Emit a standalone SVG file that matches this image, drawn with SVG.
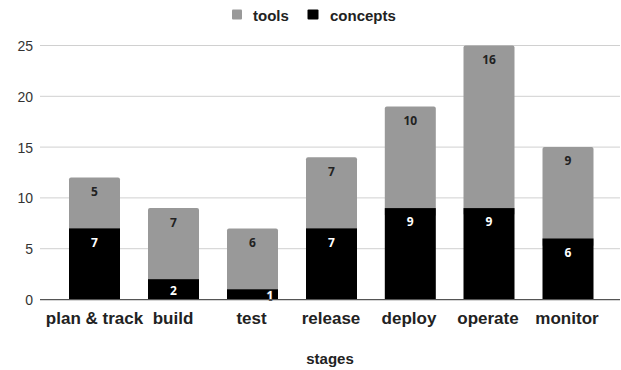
<svg xmlns="http://www.w3.org/2000/svg" width="621" height="370" viewBox="0 0 621 370">
<style>
.grid{stroke:#d0d0d0;stroke-width:1;fill:none}
.axis{stroke:#555;stroke-width:1.3;fill:none}
.ylab{font-family:"Liberation Sans",Arial,sans-serif;font-size:14px;fill:#333;text-anchor:end}
.xlab{font-family:"Liberation Sans",Arial,sans-serif;font-size:17px;font-weight:bold;fill:#222;text-anchor:middle}
.leg{font-family:"Liberation Sans",Arial,sans-serif;font-size:15px;font-weight:bold;fill:#222}
.title{font-family:"Liberation Sans",Arial,sans-serif;font-size:15px;font-weight:bold;fill:#222;text-anchor:middle}
.tools{fill:#999}
.concepts{fill:#000}
.vd{font-family:"Open Sans","Noto Sans",sans-serif;font-size:12px;font-weight:bold;fill:#222;text-anchor:middle}
.vw{font-family:"Open Sans","Noto Sans",sans-serif;font-size:12px;font-weight:bold;fill:#fff;text-anchor:middle}
</style>
<rect width="621" height="370" fill="#fff"/>
<g id="legend">
<rect x="232" y="9.5" width="10" height="10" rx="1" class="tools"/>
<text x="253" y="20.5" class="leg">tools</text>
<rect x="307.5" y="9.5" width="11" height="10" rx="1" class="concepts"/>
<text x="330" y="20.5" class="leg">concepts</text>
</g>
<g id="gridlines">
<line x1="40" y1="45.5" x2="620" y2="45.5" class="grid"/>
<line x1="40" y1="96.3" x2="620" y2="96.3" class="grid"/>
<line x1="40" y1="147.1" x2="620" y2="147.1" class="grid"/>
<line x1="40" y1="197.9" x2="620" y2="197.9" class="grid"/>
<line x1="40" y1="248.7" x2="620" y2="248.7" class="grid"/>
</g>
<g id="y-axis">
<text x="33" y="51" class="ylab">25</text>
<text x="33" y="101.8" class="ylab">20</text>
<text x="33" y="152.6" class="ylab">15</text>
<text x="33" y="203.4" class="ylab">10</text>
<text x="33" y="254.2" class="ylab">5</text>
<text x="33" y="305" class="ylab">0</text>
</g>
<g id="bar-plan-track">
<rect x="69" y="177.6" width="51" height="60" rx="2" class="tools"/>
<rect x="69" y="228.4" width="51" height="71.1" class="concepts"/>
<text x="94.5" y="196" class="vd">5</text>
<text x="94.5" y="247" class="vw">7</text>
<text x="94.5" y="324" class="xlab">plan &amp; track</text>
</g>
<g id="bar-build">
<rect x="148" y="208.1" width="51" height="80" rx="2" class="tools"/>
<rect x="148" y="279.2" width="51" height="20.3" class="concepts"/>
<text x="173.5" y="226.5" class="vd">7</text>
<text x="173.5" y="294.5" class="vw">2</text>
<text x="173" y="324" class="xlab">build</text>
</g>
<g id="bar-test">
<rect x="227" y="228.4" width="51" height="70" rx="2" class="tools"/>
<rect x="227" y="289.3" width="51" height="10.2" class="concepts"/>
<text x="252.5" y="247" class="vd">6</text>
<text x="270" y="300" class="vw" stroke="#222" stroke-width="1.5" paint-order="stroke">1</text>
<text x="251.5" y="324" class="xlab">test</text>
</g>
<g id="bar-release">
<rect x="306" y="157.3" width="51" height="80" rx="2" class="tools"/>
<rect x="306" y="228.4" width="51" height="71.1" class="concepts"/>
<text x="331.5" y="175.5" class="vd">7</text>
<text x="331.5" y="247" class="vw">7</text>
<text x="331" y="324" class="xlab">release</text>
</g>
<g id="bar-deploy">
<rect x="384.8" y="106.5" width="51" height="110" rx="2" class="tools"/>
<rect x="384.8" y="208.1" width="51" height="91.4" class="concepts"/>
<text x="410.3" y="125" class="vd">10</text>
<text x="410.3" y="226.3" class="vw">9</text>
<text x="409" y="324" class="xlab">deploy</text>
</g>
<g id="bar-operate">
<rect x="463.5" y="45.5" width="51" height="170" rx="2" class="tools"/>
<rect x="463.5" y="208.1" width="51" height="91.4" class="concepts"/>
<text x="489" y="64" class="vd">16</text>
<text x="489" y="226.3" class="vw">9</text>
<text x="488" y="324" class="xlab">operate</text>
</g>
<g id="bar-monitor">
<rect x="542.5" y="147.1" width="51" height="100" rx="2" class="tools"/>
<rect x="542.5" y="238.5" width="51" height="61" class="concepts"/>
<text x="568" y="165" class="vd">9</text>
<text x="568" y="256.7" class="vw">6</text>
<text x="567" y="324" class="xlab">monitor</text>
</g>
<g id="x-axis">
<line x1="40" y1="299.6" x2="620" y2="299.6" class="axis"/>
<text x="330" y="364" class="title">stages</text>
</g>
</svg>
